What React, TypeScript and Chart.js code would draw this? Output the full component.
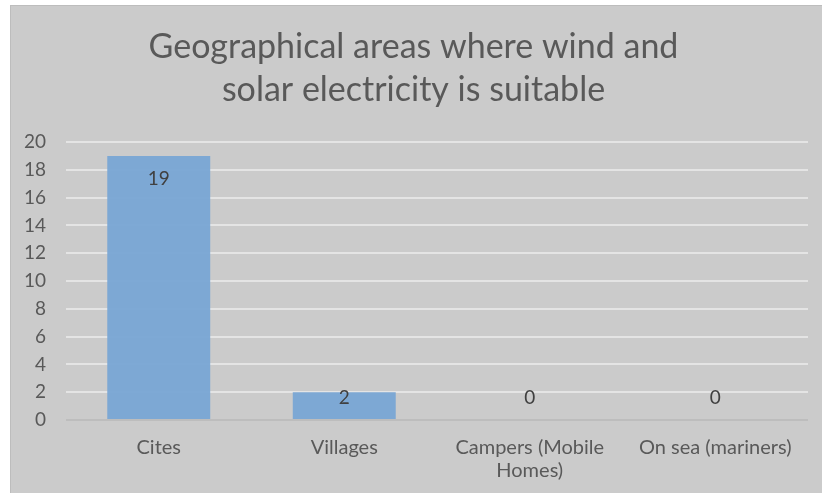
import React, { useEffect, useRef } from "react";
import { Chart, registerables } from "chart.js";

Chart.register(...registerables);

const titleLines = ["Geographical areas where wind and", "solar electricity is suitable"];
const categories: (string | string[])[] = ["Cites", "Villages", ["Campers (Mobile", "Homes)"], "On sea (mariners)"];
const values = [19, 2, 0, 0];
const yMin = 0;
const yMax = 20;
const yStep = 2;

const FONT = "Lato, 'Open Sans', sans-serif";
const TEXT = "#595959";

const dataLabelPlugin = {
  id: "dataLabels",
  afterDatasetsDraw(chart: any) {
    const ctx = chart.ctx;
    const meta = chart.getDatasetMeta(0);
    const base = chart.scales.y.getPixelForValue(0);
    ctx.save();
    ctx.font = `19px ${FONT}`;
    ctx.fillStyle = "#404040";
    ctx.textAlign = "center";
    ctx.textBaseline = "middle";
    meta.data.forEach((bar: any, i: number) => {
      const y = Math.min(bar.y + 23, base - 22);
      ctx.fillText(String(values[i]), bar.x, y);
    });
    ctx.restore();
  },
};

export default function App() {
  const ref = useRef<HTMLCanvasElement | null>(null);
  useEffect(() => {
    if (!ref.current) return;
    const chart = new Chart(ref.current, {
      type: "bar",
      data: {
        labels: categories,
        datasets: [
          {
            data: values,
            backgroundColor: "rgba(122,166,212,0.97)",
            borderWidth: 0,
            categoryPercentage: 1,
            barPercentage: 0.555,
          },
        ],
      },
      options: {
        animation: false,
        responsive: false,
        maintainAspectRatio: false,
        layout: { padding: { left: 8, right: 14, top: 0, bottom: 0 } },
        plugins: {
          legend: { display: false },
          tooltip: { enabled: false },
          title: {
            display: true,
            text: titleLines,
            color: TEXT,
            font: { family: FONT, size: 34, weight: "normal", lineHeight: 1.265 },
            padding: { top: 20, bottom: 30 },
          },
        },
        scales: {
          x: {
            grid: { display: false, drawTicks: false },
            border: { display: false },
            ticks: {
              color: TEXT,
              font: { family: FONT, size: 20, lineHeight: 1.15 },
              padding: 16,
              maxRotation: 0,
              autoSkip: false,
            },
            afterFit(scale: any) {
              scale.height = 73;
            },
          },
          y: {
            min: yMin,
            max: yMax,
            border: { display: false },
            grid: {
              color: (c: any) => (c.tick && c.tick.value === 0 ? "#BDBDBD" : "#E4E4E4"),
              lineWidth: 2,
              drawTicks: false,
            },
            ticks: {
              stepSize: yStep,
              color: TEXT,
              font: { family: FONT, size: 19 },
              padding: 20,
            },
            afterFit(scale: any) {
              scale.width = 47;
            },
          },
        },
      },
      plugins: [dataLabelPlugin],
    });
    return () => chart.destroy();
  }, []);
  return (
    <div
      style={{
        position: "fixed",
        left: 10,
        top: 5,
        width: 812,
        height: 488,
        background: "#CBCBCB",
        borderLeft: "1px solid #BDBDBD",
        borderTop: "1px solid #BDBDBD",
        boxSizing: "border-box",
      }}
    >
      <canvas ref={ref} width={811} height={487} style={{ display: "block" }} />
    </div>
  );
}
